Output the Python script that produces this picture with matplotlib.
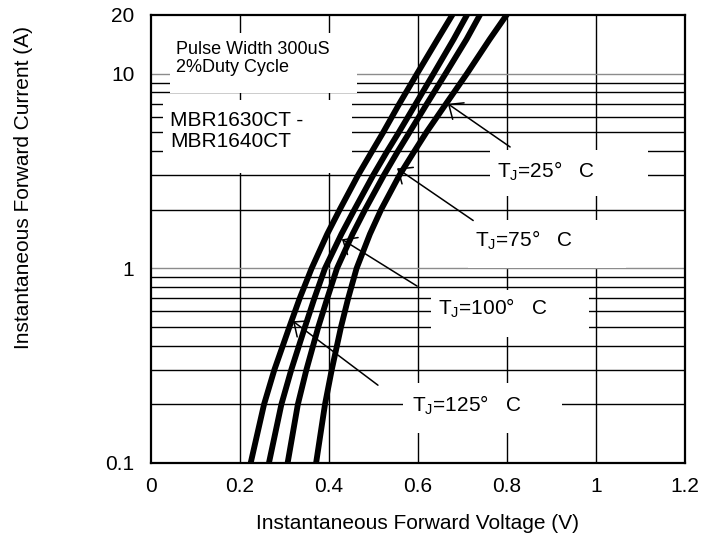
import numpy as np
import matplotlib
matplotlib.use("Agg")
import matplotlib.pyplot as plt
from matplotlib.patches import Rectangle

plt.rcParams['font.family'] = ['Liberation Sans', 'DejaVu Sans']
plt.rcParams['mathtext.default'] = 'regular'

# forward current (A) and forward voltage (V) per junction temperature
current = [0.1, 0.2, 0.3, 0.5, 0.7, 1, 1.5, 2, 3, 4, 5, 7, 10, 15, 20]
v_125 = [0.224, 0.254, 0.277, 0.311, 0.334, 0.361, 0.396, 0.424, 0.465, 0.497,
         0.522, 0.558, 0.598, 0.644, 0.677]
v_100 = [0.265, 0.293, 0.315, 0.346, 0.367, 0.391, 0.428, 0.457, 0.499, 0.531,
         0.557, 0.595, 0.635, 0.680, 0.710]
v_75 = [0.307, 0.330, 0.349, 0.376, 0.396, 0.418, 0.453, 0.481, 0.523, 0.555,
        0.581, 0.620, 0.662, 0.709, 0.739]
v_25 = [0.371, 0.391, 0.406, 0.427, 0.443, 0.462, 0.492, 0.517, 0.558, 0.592,
        0.619, 0.663, 0.710, 0.761, 0.799]

x_ticks = [0, 0.2, 0.4, 0.6, 0.8, 1, 1.2]
x_ticklabels = ['0', '0.2', '0.4', '0.6', '0.8', '1', '1.2']
y_ticks = [0.1, 1, 10, 20]
y_ticklabels = ['0.1', '1', '10', '20']

labels = ['T$_{J}$=25°   C', 'T$_{J}$=75°   C', 'T$_{J}$=100°   C', 'T$_{J}$=125°   C']
# arrow tips (on curves) and tails (near labels), in data units
arrow_tips = [(0.667, 7.0), (0.553, 3.26), (0.429, 1.41), (0.319, 0.535)]
arrow_tails = [(0.807, 4.2), (0.724, 1.76), (0.598, 0.81), (0.510, 0.251)]

fig = plt.figure(figsize=(7.14, 5.39), dpi=100)
ax = fig.add_axes([151 / 714, 76 / 539, 534 / 714, 448 / 539])
ax.set_yscale('log')
ax.set_xlim(0, 1.2)
ax.set_ylim(0.1, 20)

# grid
for xv in x_ticks[1:-1]:
    ax.axvline(xv, color='black', lw=1.0, zorder=1)
minor_y = [m * d for d in (0.1, 1) for m in range(2, 10)]
for yv in minor_y:
    ax.axhline(yv, color='black', lw=1.0, zorder=1)
for yv in (1, 10):
    ax.axhline(yv, color='#8c8c8c', lw=1.0, zorder=1)

# white boxes behind the texts (axes fractions)
boxes = [(0.036, 0.826, 0.350, 0.134),
         (0.022, 0.647, 0.354, 0.163),
         (0.635, 0.597, 0.296, 0.102),
         (0.594, 0.435, 0.296, 0.107),
         (0.524, 0.281, 0.296, 0.105),
         (0.472, 0.067, 0.298, 0.112)]
for bx, by, bw, bh in boxes:
    ax.add_patch(Rectangle((bx, by), bw, bh, transform=ax.transAxes,
                           facecolor='white', edgecolor='none', zorder=2))

for v in (v_125, v_100, v_75, v_25):
    ax.plot(v, current, color='black', lw=4.2, zorder=3, solid_joinstyle='round')

ax.text(0.047, 0.942, 'Pulse Width 300uS\n2%Duty Cycle', transform=ax.transAxes,
        fontsize=13, va='top', ha='left', linespacing=1.08, zorder=4)
ax.text(0.036, 0.786, 'MBR1630CT -\nMBR1640CT', transform=ax.transAxes,
        fontsize=15, va='top', ha='left', linespacing=1.12, zorder=4)

label_pos = [(0.648, 0.636), (0.607, 0.482), (0.537, 0.330), (0.489, 0.114)]
for lab, (lx, ly) in zip(labels, label_pos):
    ax.text(lx, ly, lab, transform=ax.transAxes, fontsize=15,
            va='baseline', ha='left', zorder=4)

for tip, tail in zip(arrow_tips, arrow_tails):
    ax.annotate('', xy=tip, xytext=tail,
                arrowprops=dict(arrowstyle='->,head_length=0.7,head_width=0.6',
                                color='black', lw=1.1, mutation_scale=12,
                                shrinkA=0, shrinkB=0), zorder=4)

ax.set_xticks(x_ticks)
ax.set_xticklabels(x_ticklabels)
ax.set_yticks(y_ticks)
ax.set_yticklabels(y_ticklabels)
ax.yaxis.set_minor_locator(matplotlib.ticker.NullLocator())
ax.tick_params(axis='both', length=0, labelsize=15)
ax.tick_params(axis='x', pad=10)
ax.tick_params(axis='y', pad=12)
for s in ax.spines.values():
    s.set_linewidth(1.6)
    s.set_zorder(5)

ax.set_xlabel('Instantaneous Forward Voltage (V)', fontsize=15, labelpad=13)
ax.set_ylabel('Instantaneous Forward Current (A)', fontsize=15)
ax.yaxis.set_label_coords(-0.221, 0.616)

fig.savefig('out.png', dpi=100)
